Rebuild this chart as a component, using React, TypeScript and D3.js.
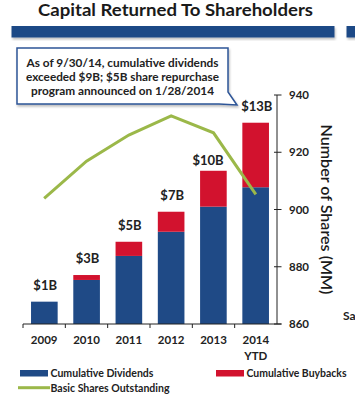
import React from "react";
import * as d3 from "d3";

const years = ["2009", "2010", "2011", "2012", "2013", "2014"];
const dividends = [1.45, 2.86, 4.42, 5.99, 7.62, 8.88];
const buybacks = [0, 0.32, 0.92, 1.3, 2.33, 4.19];
const totalLabels = ["$1B", "$3B", "$5B", "$7B", "$10B", "$13B"];
const shares = [903.9, 916.9, 926.0, 932.7, 926.8, 905.3];
const shareTicks = [860, 880, 900, 920, 940];

const W = 355;
const H = 394;
const left = 23;
const right = 277;
const top = 95;
const bottom = 324;

const BLUE = "#1F4A86";
const RED = "#D2122E";
const GREEN = "#9BB849";
const FONT = "Lato, 'Open Sans', sans-serif";

export default function App() {
  const x = d3.scaleBand<string>().domain(years).range([left, right]).paddingInner(0.37).paddingOuter(0.19);
  const band = d3.scaleBand<string>().domain(years).range([left, right]);
  const yB = d3.scaleLinear().domain([0, 14.87]).range([bottom, top]);
  const yS = d3.scaleLinear().domain([860, 940]).range([bottom, top]);
  const cx = (i: number) => (band(years[i]) as number) + band.bandwidth() / 2;
  const line = d3
    .line<number>()
    .x((_, i) => cx(i))
    .y((d) => yS(d));

  // line y at arbitrary x (for label collision avoidance)
  const lineYAt = (px: number) => {
    for (let i = 0; i < shares.length - 1; i++) {
      const x0 = cx(i), x1 = cx(i + 1);
      if (px >= x0 && px <= x1) {
        const t = (px - x0) / (x1 - x0);
        return yS(shares[i]) + t * (yS(shares[i + 1]) - yS(shares[i]));
      }
    }
    return -1000;
  };

  const labels = years.map((yr, i) => {
    const topY = yB(dividends[i] + buybacks[i]);
    let lx = cx(i) + 1;
    let ly = topY - 12;
    const halfW = totalLabels[i].length * 3.8;
    const ly2 = lineYAt(lx + halfW);
    if (ly2 > ly - 14 && ly2 < ly + 4 && i < years.length - 1) {
      lx -= 6.5;
      ly = topY - 5.5;
    }
    return { lx, ly };
  });

  return (
    <svg width={W} height={H} style={{ position: "absolute", left: 0, top: 0, background: "#fff" }}>
      <defs>
        <filter id="sh" x="-10%" y="-10%" width="120%" height="140%">
          <feDropShadow dx="1" dy="2" stdDeviation="1.2" floodColor="#000" floodOpacity="0.25" />
        </filter>
      </defs>
      <text x={175.5} y={15.5} textAnchor="middle" fontFamily={FONT} fontWeight={700} fontSize={17.5} fill="#1a1a1a" textLength={275} lengthAdjust="spacingAndGlyphs">
        Capital Returned To Shareholders
      </text>
      <rect x={11.5} y={26} width={323} height={11.5} fill={BLUE} filter="url(#sh)" />
      <rect x={346.5} y={26} width={10} height={11.5} fill={BLUE} filter="url(#sh)" />

      {/* callout */}
      <path d="M17,48 H228 V92 L237,105 L219,104 H17 Z" fill="#fff" stroke="#2E5597" strokeWidth={1.5} filter="url(#sh)" />
      {[
        ["As of 9/30/14, cumulative dividends", 67, 192],
        ["exceeded $9B; $5B share repurchase", 81, 193],
        ["program announced on 1/28/2014", 95, 183],
      ].map(([t, yy, len]) => (
        <text key={t as string} x={122.5} y={yy as number} textAnchor="middle" fontFamily={FONT} fontWeight={700} fontSize={12} fill="#222" textLength={len as number} lengthAdjust="spacingAndGlyphs">
          {t}
        </text>
      ))}

      {/* bars */}
      {years.map((yr, i) => (
        <g key={yr}>
          <rect x={x(yr)} width={x.bandwidth()} y={yB(dividends[i])} height={bottom - yB(dividends[i])} fill={BLUE} />
          {buybacks[i] > 0 && (
            <rect x={x(yr)} width={x.bandwidth()} y={yB(dividends[i] + buybacks[i])} height={yB(dividends[i]) - yB(dividends[i] + buybacks[i])} fill={RED} />
          )}
        </g>
      ))}

      {/* line */}
      <path d={line(shares) || ""} fill="none" stroke={GREEN} strokeWidth={3} strokeLinejoin="miter" />

      {years.map((yr, i) => (
        <text key={"v" + yr} x={labels[i].lx} y={labels[i].ly} textAnchor="middle" fontFamily={FONT} fontWeight={700} fontSize={13} fill="#222">
          {totalLabels[i]}
        </text>
      ))}

      {/* x axis */}
      <line x1={left} x2={right + 4.5} y1={bottom} y2={bottom} stroke="#222" strokeWidth={1} />
      {years.map((yr) => (
        <line key={"t" + yr} x1={band(yr)} x2={band(yr)} y1={bottom} y2={bottom + 4} stroke="#222" />
      ))}
      {years.map((yr, i) => (
        <text key={"l" + yr} x={cx(i)} y={344} textAnchor="middle" fontFamily={FONT} fontWeight={700} fontSize={11.5} fill="#222">
          {yr}
        </text>
      ))}
      <text x={cx(years.length - 1)} y={360} textAnchor="middle" fontFamily={FONT} fontWeight={700} fontSize={11.5} fill="#222">
        YTD
      </text>

      {/* right axis */}
      <line x1={right} x2={right} y1={top} y2={bottom} stroke="#222" />
      {shareTicks.map((t) => (
        <g key={t}>
          <line x1={right - 3} x2={right + 4.5} y1={yS(t)} y2={yS(t)} stroke="#222" />
          <text x={289} y={yS(t) + 4} fontFamily={FONT} fontWeight={700} fontSize={11.5} fill="#222">
            {t}
          </text>
        </g>
      ))}
      <text transform={`translate(321,${(top + bottom) / 2})`} textAnchor="middle" fontFamily={FONT} fontWeight={600} fontSize={15} fill="#1a1a1a" textLength={170} lengthAdjust="spacingAndGlyphs" rotate="0" style={{ transform: `translate(321px, ${(top + bottom) / 2}px) rotate(90deg)` }}>
        Number of Shares (MM)
      </text>
      <text x={343} y={320} fontFamily={FONT} fontWeight={700} fontSize={12} fill="#222">
        Sa
      </text>

      {/* legend */}
      <rect x={20} y={370} width={28} height={6.5} fill={BLUE} />
      <text x={50.5} y={377} fontFamily={FONT} fontWeight={700} fontSize={10.5} fill="#222" textLength={103} lengthAdjust="spacingAndGlyphs">
        Cumulative Dividends
      </text>
      <rect x={216} y={370} width={28} height={6.5} fill={RED} />
      <text x={246.5} y={377} fontFamily={FONT} fontWeight={700} fontSize={10.5} fill="#222" textLength={100} lengthAdjust="spacingAndGlyphs">
        Cumulative Buybacks
      </text>
      <line x1={18} x2={50} y1={387.7} y2={387.7} stroke={GREEN} strokeWidth={3} />
      <text x={50.5} y={391.5} fontFamily={FONT} fontWeight={700} fontSize={10.5} fill="#222" textLength={119} lengthAdjust="spacingAndGlyphs">
        Basic Shares Outstanding
      </text>
    </svg>
  );
}
